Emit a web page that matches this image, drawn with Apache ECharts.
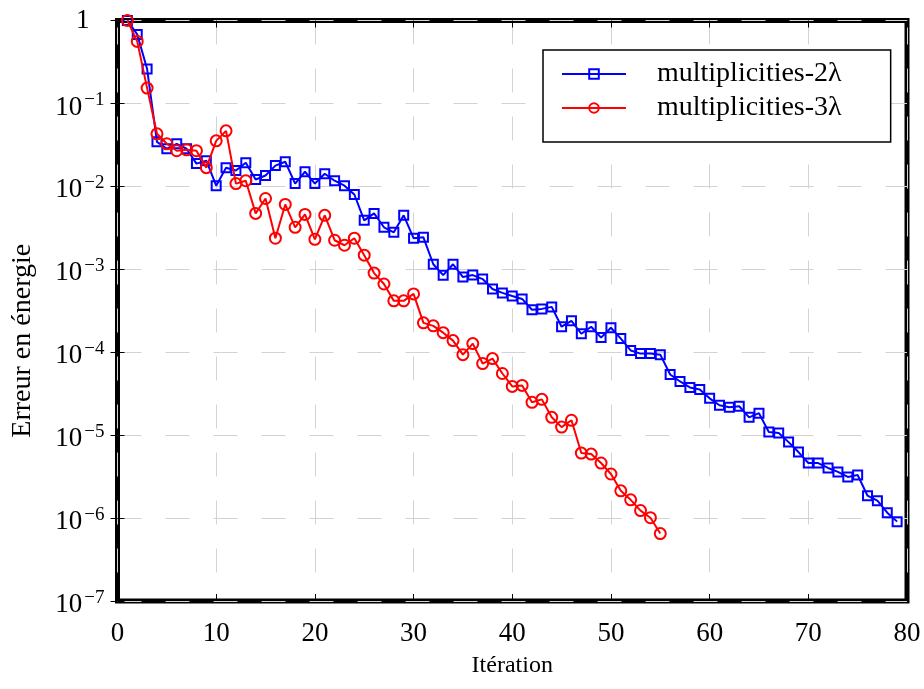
<!DOCTYPE html>
<html>
<head>
<meta charset="utf-8">
<script src="https://cdn.jsdelivr.net/npm/echarts@6/dist/echarts.min.js"></script>
<style>
  html, body { margin: 0; padding: 0; background: #fff; }
  #main { width: 924px; height: 689px; }
</style>
</head>
<body>
<div id="main"></div>
<script>
// erreur en énergie (itérations 1, 2, 3, ...)
var err2 = [1.0, 0.68, 0.26, 0.0344, 0.0284, 0.0326, 0.0284, 0.0188, 0.0204, 0.0102,
  0.0168, 0.0155, 0.0193, 0.0121, 0.0135, 0.0178, 0.0198, 0.0108, 0.0150, 0.0108,
  0.0142, 0.0117, 0.0102, 0.00798, 0.00389, 0.00472, 0.00321, 0.00279, 0.00447, 0.00237,
  0.00243, 0.00115, 0.00085, 0.00115, 0.000805, 0.000851, 0.000762, 0.000579, 0.000519, 0.000477,
  0.000439, 0.000325, 0.000333, 0.000352, 0.000203, 0.000239, 0.000167, 0.000203, 0.000150, 0.000197,
  0.000146, 0.000105, 0.0000962, 0.0000962, 0.0000935, 0.0000539, 0.0000444, 0.0000376, 0.0000356, 0.0000278,
  0.0000229, 0.0000217, 0.0000223, 0.0000164, 0.0000184, 0.0000109, 0.0000106, 0.00000824, 0.00000625, 0.00000461,
  0.00000461, 0.00000402, 0.0000036, 0.00000313, 0.00000331, 0.00000186, 0.00000162, 0.00000116, 0.000000906];

var err3 = [1.0, 0.56, 0.153, 0.043, 0.0326, 0.0269, 0.0276, 0.0269, 0.0168, 0.0354,
  0.0467, 0.0108, 0.0117, 0.00472, 0.00714, 0.00237, 0.00605, 0.00321, 0.00459, 0.0023,
  0.00447, 0.00224, 0.00195, 0.00237, 0.00148, 0.0009, 0.000665, 0.000416, 0.000416, 0.000505,
  0.000226, 0.000208, 0.000172, 0.000138, 0.0000935, 0.000127, 0.000073, 0.0000838, 0.0000554, 0.0000387,
  0.0000398, 0.0000249, 0.000027, 0.0000164, 0.0000125, 0.0000151, 0.00000608, 0.00000591, 0.00000461, 0.0000034,
  0.00000213, 0.00000166, 0.00000123, 0.00000101, 0.00000065];

var names = ['multiplicities-2λ', 'multiplicities-3λ'];

var serif = 'Liberation Serif';

function pts(arr) {
  return arr.map(function (v, i) { return [i + 1, v]; });
}

function yLabel(v) {
  var e = Math.round(Math.log10(v));
  if (e === 0) return '{one|1}';
  return '{b|10}{s|\u2212' + (-e) + '}';
}

var gridLine = { show: true, lineStyle: { color: '#d3d3d3', width: 1, type: [24, 24] } };

var myChart = echarts.init(document.getElementById('main'));

var option = {
  animation: false,
  grid: {
    left: 117.5, right: 17, top: 20.5, bottom: 88,
    show: true, borderColor: '#000', borderWidth: 5, backgroundColor: 'transparent'
  },
  legend: {
    orient: 'vertical',
    left: 543, top: 50,
    data: names,
    itemWidth: 64, itemHeight: 12, itemGap: 6,
    padding: [10, 49, 20, 18],
    borderColor: '#000', borderWidth: 1.5,
    backgroundColor: '#fff',
    textStyle: { fontFamily: serif, fontSize: 28, color: '#000', lineHeight: 28, padding: [0, 0, 0, 26] }
  },
  xAxis: [{
    type: 'value', min: 0, max: 80, interval: 10,
    name: 'Itération', nameLocation: 'middle', nameGap: 53,
    nameTextStyle: { fontFamily: serif, fontSize: 24, color: '#000' },
    axisLine: { show: false },
    axisTick: { show: true, inside: true, length: 7, lineStyle: { color: '#000', width: 1 } },
    axisLabel: { fontFamily: serif, fontSize: 27, color: '#000', margin: 19 },
    splitLine: gridLine
  }, {
    type: 'value', min: 0, max: 80, interval: 10, position: 'top',
    axisLine: { show: false },
    axisTick: { show: true, inside: true, length: 7, lineStyle: { color: '#000', width: 1 } },
    axisLabel: { show: false },
    splitLine: { show: false }
  }],
  yAxis: [{
    type: 'log', logBase: 10, min: 1e-7, max: 1,
    name: 'Erreur en énergie', nameLocation: 'middle', nameGap: 81,
    nameTextStyle: { fontFamily: serif, fontSize: 28, color: '#000', padding: [0, 60, 0, 0] },
    axisLine: { show: false },
    axisTick: { show: true, inside: true, length: 7, lineStyle: { color: '#000', width: 1 } },
    axisLabel: {
      margin: 13,
      padding: [8, 0, 0, 0],
      formatter: yLabel,
      rich: {
        one: { fontFamily: serif, fontSize: 27, color: '#000', padding: [0, 15, 8, 0] },
        b: { fontFamily: serif, fontSize: 27, color: '#000' },
        s: { fontFamily: serif, fontSize: 19, color: '#000', padding: [0, 0, 14, 2] }
      }
    },
    splitLine: gridLine,
    minorTick: { show: false }
  }, {
    type: 'log', logBase: 10, min: 1e-7, max: 1, position: 'right',
    axisLine: { show: false },
    axisTick: { show: true, inside: true, length: 7, lineStyle: { color: '#000', width: 1 } },
    axisLabel: { show: false },
    splitLine: { show: false }
  }],
  series: [{
    name: names[0],
    type: 'line',
    data: pts(err2),
    symbol: 'rect', symbolSize: 9,
    lineStyle: { color: '#0000ff', width: 2 },
    itemStyle: { color: 'rgba(0,0,0,0)', borderColor: '#0000ff', borderWidth: 2 },
    z: 3
  }, {
    name: names[1],
    type: 'line',
    data: pts(err3),
    symbol: 'circle', symbolSize: 11,
    lineStyle: { color: '#ff0000', width: 2 },
    itemStyle: { color: 'rgba(0,0,0,0)', borderColor: '#ff0000', borderWidth: 2 },
    z: 4
  }]
};

myChart.setOption(option);
</script>
</body>
</html>
